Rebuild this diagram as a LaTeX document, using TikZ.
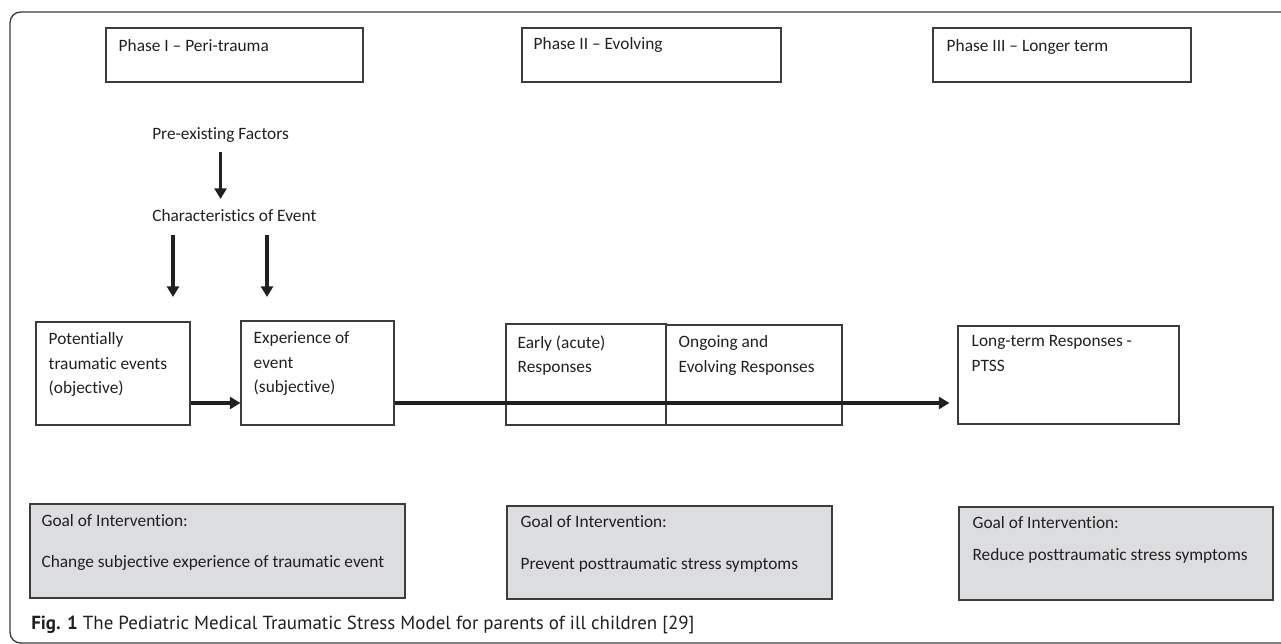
\documentclass[tikz,border=0pt]{standalone}
\usepackage{fontspec}
\setmainfont{Carlito}[Ligatures=NoCommon]
\newfontfamily\capfont{PT Sans}
\usetikzlibrary{arrows.meta,fit,positioning}
\definecolor{ink}{HTML}{231F20}
\definecolor{edge}{HTML}{3C3C3C}
\definecolor{goalgray}{HTML}{DCDDDF}
\tikzset{
  box/.style={draw=edge, line width=0.8pt, inner sep=0pt, rectangle},
  goalbox/.style={box, fill=goalgray, line width=1pt},
  txt/.style={inner sep=0pt, anchor=north west, align=left, text=ink,
    font=\fontsize{13}{18.4}\selectfont},
  arr/.style={draw=ink, line width=2.6pt, -{Triangle[length=8pt,width=9pt]}},
}
\begin{document}
\begin{tikzpicture}[x=0.75pt,y=-0.75pt]
\useasboundingbox (0,0) rectangle (1281,643);
\clip (0,0) rectangle (1281,643);
% outer frame
\draw[edge, line width=1pt, rounded corners=8pt] (10,12) rectangle (1300,643);

% phase headers
\node[box, fit={(106,28) (363,82)}] (ph1) {};
\node[txt] (ph1t) at ([shift={(13,12)}]ph1.north west) {Phase I – Peri-trauma};
\node[box, fit={(522,28) (781,82)}] (ph2) {};
\node[txt] (ph2t) at ([shift={(12,10)}]ph2.north west) {Phase II – Evolving};
\node[box, fit={(933,28) (1191,82)}] (ph3) {};
\node[txt] (ph3t) at ([shift={(14,12)}]ph3.north west) {Phase III – Longer term};

% factors
\node[txt] (pre) at (152,127) {Pre-existing Factors};
\node[txt] (char) at (152,209) {Characteristics of Event};

% response boxes
\node[box, fit={(36,322) (190,425)}] (pot) {};
\node[txt] (pott) at ([shift={(13,11)}]pot.north west) {Potentially\\traumatic events\\(objective)};
\node[box, fit={(241,321) (394,425)}] (exp) {};
\node[txt] (expt) at ([shift={(13,11)}]exp.north west) {Experience of\\event\\(subjective)};
\node[box, fit={(506,324) (666,425)}] (early) {};
\node[txt] (earlyt) at ([shift={(12,12)}]early.north west) {Early (acute)\\Responses};
\node[box, fit={(666,325) (842,425)}] (ongo) {};
\node[txt] (ongot) at ([shift={(13,11)}]ongo.north west) {Ongoing and\\Evolving Responses};
\node[box, fit={(958,326) (1179,424)}] (longt) {};
\node[txt] (longtt) at ([shift={(14,10)}]longt.north west) {Long-term Responses -\\PTSS};

% arrows
\coordinate (axis) at (0,403);
\coordinate (d1) at (173,297);
\coordinate (d2) at (267,297);
\draw[arr] ([yshift=-7pt]pre.south) -- ([yshift=7.5pt]pre.south |- char.north);
\draw[arr] ([yshift=-10pt]char.south -| d1) -- (d1);
\draw[arr] ([yshift=-10pt]char.south -| d2) -- (d2);
\draw[arr] (pot.east |- axis) -- (exp.west |- axis);
\draw[arr] (exp.east |- axis) -- ([xshift=-6pt]longt.west |- axis);

% goals
\node[goalbox, fit={(30,504) (405,598)}] (g1) {};
\node[txt] (g1t) at ([shift={(12,11)}]g1.north west) {Goal of Intervention:\\[12.35pt]Change subjective experience of traumatic event};
\node[goalbox, fit={(507,506) (832,599)}] (g2) {};
\node[txt] (g2t) at ([shift={(14,10)}]g2.north west) {Goal of Intervention:\\[13.1pt]Prevent posttraumatic stress symptoms};
\node[goalbox, fit={(959,507) (1273,600)}] (g3) {};
\node[txt] (g3t) at ([shift={(14,10)}]g3.north west) {Goal of Intervention:\\[5.6pt]Reduce posttraumatic stress symptoms};

% caption
\node[anchor=base west, inner sep=0pt, text=ink, font=\capfont\fontsize{14.2}{17}\selectfont] (cap) at (31,629)
  {\textbf{Fig. 1} The Pediatric Medical Traumatic Stress Model for parents of ill children [29]};
\end{tikzpicture}
\end{document}
